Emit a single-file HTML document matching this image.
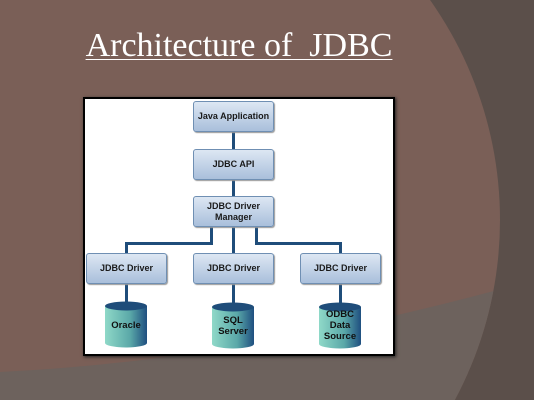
<!DOCTYPE html>
<html><head><style>
html,body{margin:0;width:534px;height:400px;overflow:hidden;font-family:"Liberation Sans",sans-serif}
.b{position:absolute;width:81px;height:31px;box-sizing:border-box;border:1px solid #6f8fb3;border-radius:3px;background:linear-gradient(#dde7f3,#a9bfdb);display:flex;align-items:center;justify-content:center;text-align:center;font-weight:bold;font-size:9px;line-height:11px;color:#1a1a1a;box-shadow:1px 1px 1px #999}
.l{position:absolute;background:#1f4d7a}
.ct{position:absolute;left:0;width:42px;text-align:center;font-weight:bold;font-size:9.5px;line-height:11px;color:#111}
</style></head><body>
<svg width="534" height="400" style="position:absolute;left:0;top:0">
<defs><clipPath id="cc"><circle cx="119" cy="220" r="381"/></clipPath></defs>
<rect width="534" height="400" fill="#5b4f4a"/>
<circle cx="119" cy="220" r="381" fill="#7a5f57"/>
<path d="M0 372 Q250 360 534 280 L534 400 L0 400 Z" fill="#6d625d" clip-path="url(#cc)"/>
</svg>
<div style="position:absolute;left:80px;top:27px;width:318px;height:40px;text-align:center;font-family:'Liberation Serif',serif;font-size:34px;line-height:38px;color:#fff;text-decoration:underline;text-decoration-thickness:1px;text-underline-offset:3px;white-space:nowrap;overflow:hidden">Architecture of&nbsp; JDBC</div>
<div style="position:absolute;left:83px;top:97px;width:312px;height:259px;box-sizing:border-box;border:2px solid #000;background:#fff;box-shadow:1px 1px 3px #222"></div>
<div class="l" style="left:232px;top:131px;width:3px;height:65px"></div>
<div class="l" style="left:232px;top:227px;width:3px;height:26px"></div>
<div class="l" style="left:210px;top:227px;width:3px;height:17px"></div>
<div class="l" style="left:125px;top:242px;width:88px;height:3px"></div>
<div class="l" style="left:125px;top:242px;width:3px;height:11px"></div>
<div class="l" style="left:255px;top:227px;width:3px;height:17px"></div>
<div class="l" style="left:255px;top:242px;width:87px;height:3px"></div>
<div class="l" style="left:339px;top:242px;width:3px;height:11px"></div>
<div class="l" style="left:125px;top:284px;width:3px;height:20px"></div>
<div class="l" style="left:232px;top:284px;width:3px;height:20px"></div>
<div class="l" style="left:339px;top:284px;width:3px;height:20px"></div>
<div class="b" style="left:193px;top:101px">Java Application</div>
<div class="b" style="left:193px;top:149px">JDBC API</div>
<div class="b" style="left:193px;top:196px">JDBC Driver<br>Manager</div>
<div class="b" style="left:86px;top:253px">JDBC Driver</div>
<div class="b" style="left:193px;top:253px">JDBC Driver</div>
<div class="b" style="left:300px;top:253px">JDBC Driver</div>
<svg width="534" height="400" style="position:absolute;left:0;top:0">
<defs><linearGradient id="g" x1="0" x2="1"><stop offset="0" stop-color="#8fd9c8"/><stop offset="0.6" stop-color="#5aa8a8"/><stop offset="1" stop-color="#1f4f80"/></linearGradient></defs>
<g><path d="M105 306 L105 343 A21 4.5 0 0 0 147 343 L147 306 Z" fill="url(#g)"/><ellipse cx="126" cy="306" rx="21" ry="4.5" fill="#1f4d7a"/></g>
<g transform="translate(107,1)"><path d="M105 306 L105 343 A21 4.5 0 0 0 147 343 L147 306 Z" fill="url(#g)"/><ellipse cx="126" cy="306" rx="21" ry="4.5" fill="#1f4d7a"/></g>
<g transform="translate(214,1)"><path d="M105 306 L105 343 A21 4.5 0 0 0 147 343 L147 306 Z" fill="url(#g)"/><ellipse cx="126" cy="306" rx="21" ry="4.5" fill="#1f4d7a"/></g>
</svg>
<div class="ct" style="left:105px;top:320px">Oracle</div>
<div class="ct" style="left:212px;top:315px">SQL<br>Server</div>
<div class="ct" style="left:319px;top:309px">ODBC<br>Data<br>Source</div>
</body></html>
